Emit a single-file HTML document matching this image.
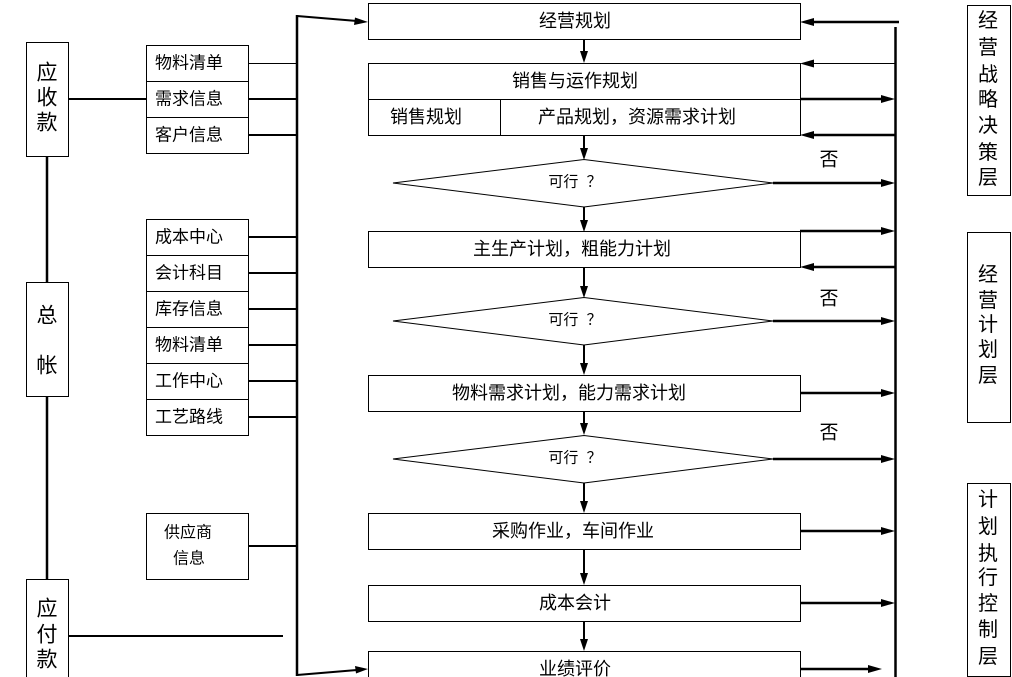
<!DOCTYPE html>
<html><head><meta charset="utf-8">
<style>
html,body{margin:0;padding:0;background:#fff;}
svg{display:block;}
text{font-family:"Liberation Sans","Noto Sans CJK SC","WenQuanYi Zen Hei",sans-serif;fill:#000;}
.pre{white-space:pre;}
</style></head>
<body>
<svg width="1012" height="677" viewBox="0 0 1012 677" xmlns="http://www.w3.org/2000/svg">
<rect width="1012" height="677" fill="#fff"/>
<g fill="none" stroke="#000">
  <!-- left account boxes -->
  <rect x="26.5" y="42.5" width="42" height="114" stroke-width="1"/>
  <rect x="26.5" y="282.5" width="42" height="114" stroke-width="1"/>
  <rect x="26.5" y="579.5" width="42" height="110" stroke-width="1"/>
  <line x1="47" y1="156" x2="47" y2="282" stroke-width="2.5"/>
  <line x1="47" y1="396" x2="47" y2="579" stroke-width="2.5"/>
  <line x1="68" y1="99" x2="146" y2="99" stroke-width="2"/>
  <line x1="68" y1="636" x2="283" y2="636" stroke-width="2"/>

  <!-- info group 1 -->
  <rect x="146.5" y="45.5" width="102" height="108" stroke-width="1"/>
  <line x1="146" y1="81.5" x2="248" y2="81.5" stroke-width="1"/>
  <line x1="146" y1="117.5" x2="248" y2="117.5" stroke-width="1"/>
  <line x1="248" y1="63.5" x2="297" y2="63.5" stroke-width="1"/>
  <line x1="248" y1="99" x2="297" y2="99" stroke-width="2"/>
  <line x1="248" y1="135" x2="297" y2="135" stroke-width="2"/>

  <!-- info group 2 -->
  <rect x="146.5" y="219.5" width="102" height="216" stroke-width="1"/>
  <line x1="146" y1="255.5" x2="248" y2="255.5" stroke-width="1"/>
  <line x1="146" y1="291.5" x2="248" y2="291.5" stroke-width="1"/>
  <line x1="146" y1="327.5" x2="248" y2="327.5" stroke-width="1"/>
  <line x1="146" y1="363.5" x2="248" y2="363.5" stroke-width="1"/>
  <line x1="146" y1="399.5" x2="248" y2="399.5" stroke-width="1"/>
  <line x1="248" y1="237" x2="297" y2="237" stroke-width="2"/>
  <line x1="248" y1="273" x2="297" y2="273" stroke-width="2"/>
  <line x1="248" y1="309" x2="297" y2="309" stroke-width="2"/>
  <line x1="248" y1="345" x2="297" y2="345" stroke-width="2"/>
  <line x1="248" y1="381" x2="297" y2="381" stroke-width="2"/>
  <line x1="248" y1="417" x2="297" y2="417" stroke-width="2"/>

  <!-- info group 3 -->
  <rect x="146.5" y="513.5" width="102" height="66" stroke-width="1"/>
  <line x1="248" y1="546" x2="297" y2="546" stroke-width="2"/>

  <!-- left trunk -->
  <line x1="297" y1="15" x2="297" y2="676" stroke-width="2.5"/>
  <line x1="297" y1="16" x2="357" y2="21" stroke-width="2"/>
  <line x1="297" y1="675" x2="357" y2="670" stroke-width="2"/>

  <!-- middle boxes -->
  <rect x="368.5" y="3.5" width="432" height="36" stroke-width="1"/>
  <rect x="368.5" y="63.5" width="432" height="72" stroke-width="1"/>
  <line x1="368" y1="99.5" x2="800" y2="99.5" stroke-width="1"/>
  <line x1="500.5" y1="99" x2="500.5" y2="135" stroke-width="1"/>
  <rect x="368.5" y="231.5" width="432" height="36" stroke-width="1"/>
  <rect x="368.5" y="375.5" width="432" height="36" stroke-width="1"/>
  <rect x="368.5" y="513.5" width="432" height="36" stroke-width="1"/>
  <rect x="368.5" y="585.5" width="432" height="36" stroke-width="1"/>
  <rect x="368.5" y="651.5" width="432" height="40" stroke-width="1"/>

  <!-- diamonds -->
  <polygon points="393,183 584,159.5 773,183 584,207" stroke-width="1"/>
  <polygon points="393,321 584,297.5 773,321 584,345" stroke-width="1"/>
  <polygon points="393,459 584,435.5 773,459 584,483" stroke-width="1"/>

  <!-- down connectors -->
  <line x1="584" y1="39" x2="584" y2="53" stroke-width="2"/>
  <line x1="584" y1="135" x2="584" y2="150" stroke-width="2"/>
  <line x1="584" y1="207" x2="584" y2="222" stroke-width="2"/>
  <line x1="584" y1="267" x2="584" y2="288" stroke-width="2"/>
  <line x1="584" y1="345" x2="584" y2="365" stroke-width="2"/>
  <line x1="584" y1="411" x2="584" y2="426" stroke-width="2"/>
  <line x1="584" y1="483" x2="584" y2="503" stroke-width="2"/>
  <line x1="584" y1="549" x2="584" y2="575" stroke-width="2"/>
  <line x1="584" y1="621" x2="584" y2="641" stroke-width="2"/>

  <!-- right trunk -->
  <line x1="895.5" y1="27" x2="895.5" y2="677" stroke-width="2.5"/>
  <line x1="899" y1="22" x2="812" y2="22" stroke-width="2.5"/>
  <line x1="895" y1="63.5" x2="812" y2="63.5" stroke-width="1"/>
  <line x1="800" y1="99" x2="883" y2="99" stroke-width="2.5"/>
  <line x1="895" y1="135" x2="812" y2="135" stroke-width="2.5"/>
  <line x1="773" y1="183" x2="883" y2="183" stroke-width="2.5"/>
  <line x1="800" y1="231" x2="883" y2="231" stroke-width="2.5"/>
  <line x1="895" y1="267" x2="812" y2="267" stroke-width="2.5"/>
  <line x1="773" y1="321" x2="883" y2="321" stroke-width="2.5"/>
  <line x1="800" y1="393" x2="883" y2="393" stroke-width="2.5"/>
  <line x1="773" y1="459" x2="883" y2="459" stroke-width="2.5"/>
  <line x1="800" y1="531" x2="883" y2="531" stroke-width="2.5"/>
  <line x1="800" y1="603" x2="883" y2="603" stroke-width="2.5"/>
  <line x1="800" y1="669" x2="870" y2="669" stroke-width="2.5"/>

  <!-- right layer boxes -->
  <rect x="967.5" y="5.5" width="43" height="190" stroke-width="1"/>
  <rect x="967.5" y="232.5" width="43" height="190" stroke-width="1"/>
  <rect x="967.5" y="483.5" width="43" height="193" stroke-width="1"/>
</g>

<!-- arrowheads -->
<g fill="#000" stroke="none">
  <polygon points="580,51 588,51 584,63"/>
  <polygon points="580,148 588,148 584,160"/>
  <polygon points="580,220 588,220 584,232"/>
  <polygon points="580,286 588,286 584,298"/>
  <polygon points="580,363 588,363 584,375"/>
  <polygon points="580,423 588,423 584,435"/>
  <polygon points="580,501 588,501 584,513"/>
  <polygon points="580,573 588,573 584,585"/>
  <polygon points="580,639 588,639 584,651"/>
  <polygon points="355,17.5 368,22 354,25"/>
  <polygon points="355,666 368,669 356,673.5"/>
  <polygon points="800,22 814,18 814,26"/>
  <polygon points="800,63.5 814,59.5 814,67.5"/>
  <polygon points="800,135 814,131 814,139"/>
  <polygon points="800,267 814,263 814,271"/>
  <polygon points="895,99 881,95 881,103"/>
  <polygon points="895,183 881,179 881,187"/>
  <polygon points="895,231 881,227 881,235"/>
  <polygon points="895,321 881,317 881,325"/>
  <polygon points="895,393 881,389 881,397"/>
  <polygon points="895,459 881,455 881,463"/>
  <polygon points="895,531 881,527 881,535"/>
  <polygon points="895,603 881,599 881,607"/>
  <polygon points="882,669 868,665 868,673"/>
</g>

<!-- texts -->
<g font-size="21" text-anchor="middle" dominant-baseline="central">
  <text x="47" y="73">应</text>
  <text x="47" y="98">收</text>
  <text x="47" y="123">款</text>
  <text x="47" y="316">总</text>
  <text x="47" y="366">帐</text>
  <text x="47" y="609">应</text>
  <text x="47" y="635">付</text>
  <text x="47" y="660">款</text>
</g>
<g font-size="17" dominant-baseline="central">
  <text x="155" y="63">物料清单</text>
  <text x="155" y="99">需求信息</text>
  <text x="155" y="135">客户信息</text>
  <text x="155" y="237">成本中心</text>
  <text x="155" y="273">会计科目</text>
  <text x="155" y="309">库存信息</text>
  <text x="155" y="345">物料清单</text>
  <text x="155" y="381">工作中心</text>
  <text x="155" y="417">工艺路线</text>
</g>
<g font-size="16" text-anchor="middle" dominant-baseline="central">
  <text x="188" y="533">供应商</text>
  <text x="189" y="559">信息</text>
</g>
<g font-size="18" text-anchor="middle" dominant-baseline="central">
  <text x="575" y="21">经营规划</text>
  <text x="575" y="81">销售与运作规划</text>
  <text x="426" y="117">销售规划</text>
  <text x="637" y="117">产品规划，资源需求计划</text>
  <text x="572" y="249">主生产计划，粗能力计划</text>
  <text x="569" y="393">物料需求计划，能力需求计划</text>
  <text x="573" y="531">采购作业，车间作业</text>
  <text x="575" y="603">成本会计</text>
  <text x="575" y="669">业绩评价</text>
</g>
<g font-size="15" text-anchor="middle" dominant-baseline="central">
  <text class="pre" x="575" y="182">可行  ？</text>
  <text class="pre" x="575" y="320">可行  ？</text>
  <text class="pre" x="575" y="458">可行  ？</text>
</g>
<g font-size="19" text-anchor="middle" dominant-baseline="central">
  <text x="829" y="160">否</text>
  <text x="829" y="299">否</text>
  <text x="829" y="433">否</text>
</g>
<g font-size="20" text-anchor="middle" dominant-baseline="central">
  <text x="988" y="21">经</text>
  <text x="988" y="48">营</text>
  <text x="988" y="75">战</text>
  <text x="988" y="100">略</text>
  <text x="988" y="126">决</text>
  <text x="988" y="153">策</text>
  <text x="988" y="178">层</text>

  <text x="988" y="275">经</text>
  <text x="988" y="301">营</text>
  <text x="988" y="325">计</text>
  <text x="988" y="350">划</text>
  <text x="988" y="376">层</text>

  <text x="988" y="500">计</text>
  <text x="988" y="527">划</text>
  <text x="988" y="554">执</text>
  <text x="988" y="578">行</text>
  <text x="988" y="604">控</text>
  <text x="988" y="630">制</text>
  <text x="988" y="657">层</text>
</g>
</svg>
</body></html>
